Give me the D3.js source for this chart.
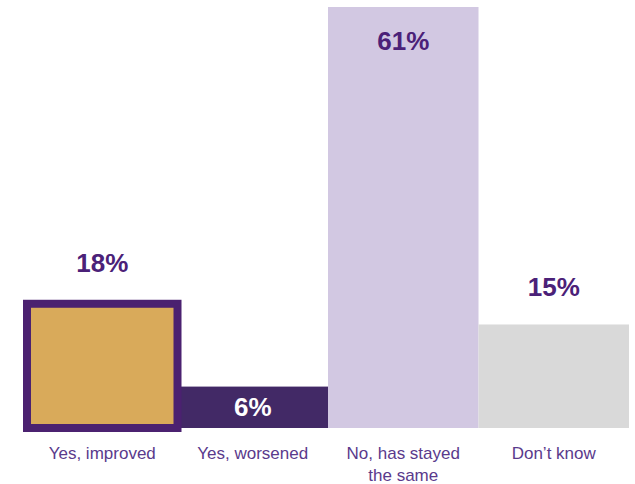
<!DOCTYPE html>
<html>
<head>
<meta charset="utf-8">
<script src="https://cdn.jsdelivr.net/npm/d3@7"></script>
<style>
  html, body { margin: 0; padding: 0; background: #fff; }
  svg { display: block; }
</style>
</head>
<body>
<svg id="chart" width="635" height="484"></svg>
<script>
// Survey answers and their shares (percent)
const categories = ["Yes, improved", "Yes, worsened", "No, has stayed the same", "Don\u2019t know"];
const labelLines = [["Yes, improved"], ["Yes, worsened"], ["No, has stayed", "the same"], ["Don\u2019t know"]];
const values = [18, 6, 61, 15];

const fills   = ["#d9aa5a", "#422966", "#d2c8e2", "#d9d9d9"];
const strokes = ["#4b2170", "none", "none", "none"];
const valueInside = [false, true, true, false];
const valueColor  = ["#4b2178", "#ffffff", "#4b2178", "#4b2178"];

const svg = d3.select("#chart");
const baseline = 428;
const font = "'Liberation Sans', Arial, sans-serif";
const strokeW = 8;

const x = d3.scaleBand().domain(categories).range([27, 629]).paddingInner(0).paddingOuter(0);
const y = d3.scaleLinear().domain([0, 61]).range([baseline, 7]);

// Draw the outlined bar last so its border sits on top of the neighbour
const order = [1, 2, 3, 0];

svg.append("g").selectAll("rect")
  .data(order)
  .join("rect")
  .attr("x", i => x(categories[i]))
  .attr("y", i => y(values[i]))
  .attr("width", x.bandwidth())
  .attr("height", i => baseline - y(values[i]))
  .attr("fill", i => fills[i])
  .attr("stroke", i => strokes[i])
  .attr("stroke-width", i => strokes[i] === "none" ? 0 : strokeW);

// Value labels: inside tall/short dark bars, above the others
function labelY(d, i) {
  const top = y(d);
  if (valueInside[i]) return Math.min(top + 43, (top + baseline) / 2 + 9);
  const outerTop = strokes[i] === "none" ? top : top - strokeW / 2;
  return outerTop - 28;
}

svg.append("g").selectAll("text")
  .data(values)
  .join("text")
  .attr("x", (d, i) => x(categories[i]) + x.bandwidth() / 2)
  .attr("y", labelY)
  .attr("text-anchor", "middle")
  .attr("font-family", font)
  .attr("font-weight", "bold")
  .attr("font-size", 26)
  .attr("fill", (d, i) => valueColor[i])
  .text(d => d + "%");

// Category labels below the bars
const lab = svg.append("g").selectAll("text")
  .data(labelLines)
  .join("text")
  .attr("x", (d, i) => x(categories[i]) + x.bandwidth() / 2)
  .attr("y", 459)
  .attr("text-anchor", "middle")
  .attr("font-family", font)
  .attr("font-size", 17)
  .attr("fill", "#5a3a8c");

lab.selectAll("tspan")
  .data(d => d)
  .join("tspan")
  .attr("x", function() { return d3.select(this.parentNode).attr("x"); })
  .attr("dy", (d, j) => j === 0 ? 0 : 22)
  .text(d => d);
</script>
</body>
</html>
